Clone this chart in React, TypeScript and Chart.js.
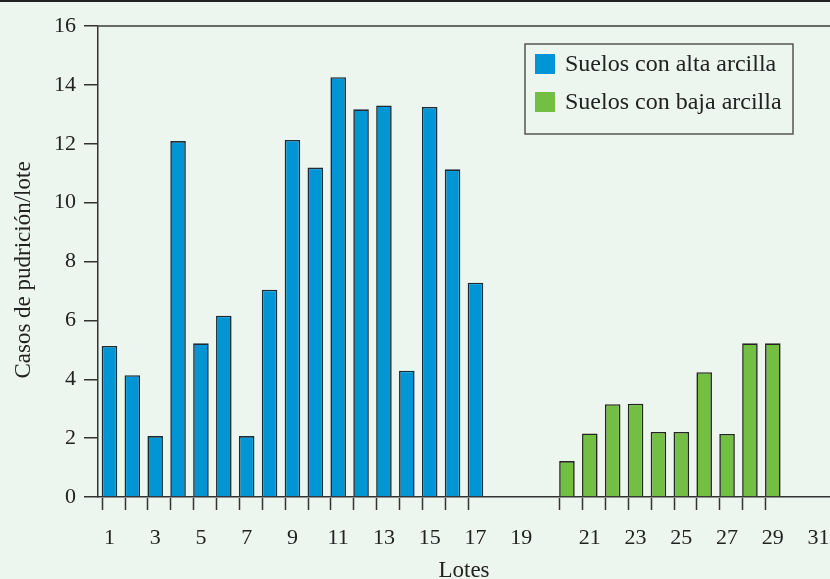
import React, { useEffect, useRef } from "react";
import { Chart, registerables } from "chart.js";

Chart.register(...registerables);

// Lot numbers along the x axis ("" is the gap between the two groups)
const lotLabels: string[] = [
  "1", "2", "3", "4", "5", "6", "7", "8", "9", "10", "11", "12", "13", "14", "15", "16", "17", "18", "19",
  "",
  "20", "21", "22", "23", "24", "25", "26", "27", "28", "29", "30", "31",
];

// Suelos con alta arcilla: lots 1..17
const highClayLots: string[] = ["1", "2", "3", "4", "5", "6", "7", "8", "9", "10", "11", "12", "13", "14", "15", "16", "17"];
const highClayValues: number[] = [5.13, 4.14, 2.07, 12.09, 5.22, 6.16, 2.07, 7.04, 12.13, 11.19, 14.26, 13.17, 13.3, 4.29, 13.25, 11.13, 7.28];

// Suelos con baja arcilla: lots 20..29
const lowClayLots: string[] = ["20", "21", "22", "23", "24", "25", "26", "27", "28", "29"];
const lowClayValues: number[] = [1.22, 2.16, 3.15, 3.17, 2.21, 2.21, 4.24, 2.14, 5.22, 5.22];

const yTicks: number[] = [0, 2, 4, 6, 8, 10, 12, 14, 16];

const seriesNames: string[] = ["Suelos con alta arcilla", "Suelos con baja arcilla"];
const yTitle = "Casos de pudrición/lote";
const xTitle = "Lotes";

const BG = "#ECF5EE";
const BLUE = "#0096D6";
const GREEN = "#72BF44";
const FONT = "'Liberation Serif', 'Times New Roman', serif";
const TEXT = "#222222";

function alignSeries(lots: string[], values: number[]): (number | null)[] {
  return lotLabels.map((l) => {
    const i = lots.indexOf(l);
    return l !== "" && i >= 0 ? values[i] : null;
  });
}

const decorPlugin = {
  id: "decor",
  beforeDraw(chart: any) {
    const { ctx, width, height } = chart;
    ctx.save();
    ctx.fillStyle = BG;
    ctx.fillRect(0, 0, width, height);
    ctx.restore();
  },
  afterDraw(chart: any) {
    const { ctx, chartArea, width } = chart;
    ctx.save();
    // figure top border
    ctx.strokeStyle = "#222";
    ctx.lineWidth = 2;
    ctx.beginPath();
    ctx.moveTo(0, 1);
    ctx.lineTo(width, 1);
    ctx.stroke();
    // top frame line
    ctx.strokeStyle = "#666a66";
    ctx.lineWidth = 2;
    ctx.beginPath();
    ctx.moveTo(chartArea.left, chartArea.top);
    ctx.lineTo(width, chartArea.top);
    ctx.stroke();
    // x ticks at left edge of each bar
    ctx.strokeStyle = "#333";
    ctx.lineWidth = 1.5;
    chart.data.datasets.forEach((ds: any, di: number) => {
      const meta = chart.getDatasetMeta(di);
      meta.data.forEach((el: any, i: number) => {
        if (ds.data[i] == null) return;
        const x = Math.round(el.x - el.width / 2) + 0.5;
        ctx.beginPath();
        ctx.moveTo(x, chartArea.bottom + 1);
        ctx.lineTo(x, chartArea.bottom + 13);
        ctx.stroke();
      });
    });
    // legend
    const lx = 525, ly = 44, lw = 268, lh = 90;
    ctx.fillStyle = BG;
    ctx.fillRect(lx, ly, lw, lh);
    ctx.strokeStyle = "#555";
    ctx.lineWidth = 1.5;
    ctx.strokeRect(lx, ly, lw, lh);
    ctx.font = `24px ${FONT}`;
    ctx.textBaseline = "middle";
    ctx.textAlign = "left";
    chart.data.datasets.forEach((ds: any, di: number) => {
      const y = 54 + di * 38;
      ctx.fillStyle = ds.backgroundColor;
      ctx.fillRect(535, y, 20, 20);
      ctx.fillStyle = TEXT;
      ctx.fillText(ds.label, 565, y + 11);
    });
    // axis titles
    ctx.fillStyle = TEXT;
    ctx.font = `23px ${FONT}`;
    ctx.textAlign = "center";
    ctx.textBaseline = "alphabetic";
    ctx.fillText(xTitle, (chartArea.left + chartArea.right) / 2, 577);
    ctx.translate(30, 270);
    ctx.rotate(-Math.PI / 2);
    ctx.fillText(yTitle, 0, 0);
    ctx.restore();
  },
};

export default function App() {
  const ref = useRef<HTMLCanvasElement | null>(null);
  useEffect(() => {
    if (!ref.current) return;
    const chart = new Chart(ref.current, {
      type: "bar",
      data: {
        labels: lotLabels,
        datasets: [
          {
            label: seriesNames[0],
            data: alignSeries(highClayLots, highClayValues),
            backgroundColor: BLUE,
            borderColor: "#1a2c36",
            borderWidth: 1.6,
          },
          {
            label: seriesNames[1],
            data: alignSeries(lowClayLots, lowClayValues),
            backgroundColor: GREEN,
            borderColor: "#22261e",
            borderWidth: 1.6,
          },
        ],
      },
      options: {
        responsive: false,
        animation: false,
        devicePixelRatio: 1,
        layout: { padding: { top: 26, right: 0, left: 0, bottom: 0 } },
        datasets: { bar: { grouped: false, categoryPercentage: 1, barPercentage: 0.68 } },
        plugins: { legend: { display: false }, tooltip: { enabled: false }, title: { display: false } },
        scales: {
          x: {
            type: "category",
            offset: true,
            grid: { display: true, drawOnChartArea: false, drawTicks: true, tickLength: 28, tickColor: "rgba(0,0,0,0)" },
            border: { display: true, color: "#333", width: 1.5 },
            ticks: {
              autoSkip: false,
              maxRotation: 0,
              padding: 0,
              color: TEXT,
              font: { family: FONT, size: 22 },
              callback: (_v: any, idx: number) => {
                const l = lotLabels[idx];
                return l !== "" && Number(l) % 2 === 1 ? l : "";
              },
            },
            afterFit: (s: any) => {
              s.height = 82;
            },
          },
          y: {
            min: 0,
            max: 16,
            afterBuildTicks: (s: any) => {
              s.ticks = yTicks.map((v) => ({ value: v }));
            },
            grid: { display: true, drawOnChartArea: false, drawTicks: true, tickLength: 14, tickColor: "#333", lineWidth: 1.5 },
            border: { display: true, color: "#333", width: 1.5 },
            ticks: { padding: 8, color: TEXT, font: { family: FONT, size: 22 } },
            afterFit: (s: any) => {
              s.width = 98;
            },
          },
        },
      },
      plugins: [decorPlugin],
    });
    return () => chart.destroy();
  }, []);
  return (
    <div style={{ position: "fixed", left: 0, top: 0, width: 830, height: 579 }}>
      <canvas ref={ref} width={830} height={579} style={{ display: "block", width: 830, height: 579 }} />
    </div>
  );
}
